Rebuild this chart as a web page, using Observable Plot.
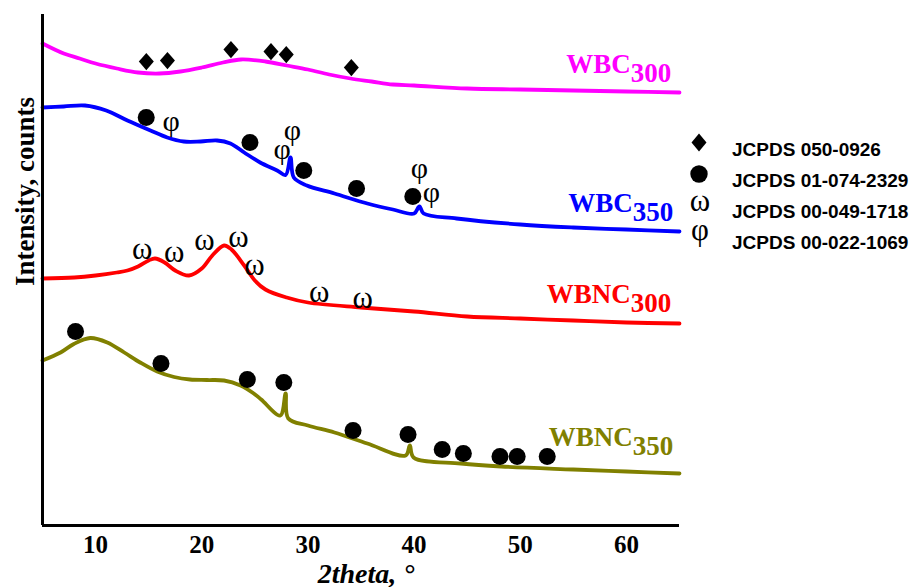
<!DOCTYPE html>
<html>
<head>
<meta charset="utf-8">
<script src="https://cdn.jsdelivr.net/npm/d3@7"></script>
<script src="https://cdn.jsdelivr.net/npm/@observablehq/plot@0.6"></script>
<style>
  body { margin: 0; background: #fff; }
  #chart { position: relative; width: 911px; height: 587px; }
  #chart svg.legend { position: absolute; left: 686px; top: 125px; }
</style>
</head>
<body>
<div id="chart"></div>
<script>
// XRD patterns, stacked with a vertical offset (arbitrary intensity units)
// Each pair is [2theta (deg), intensity]
const wbc300 = [[5,482],[7,472],[8.5,467],[10,462],[12,457],[14,453],[16,452],[18,454],[20,458],[22,463],[23.7,466],[26,464],[28,460],[30,456],[32,451],[34,447],[36,444],[38,441],[40,440],[45,437],[50,436],[55,435],[60,434],[65,433]];
const wbc350 = [[5,418],[7,419],[9,420],[11,415],[13,405],[15.17,395],[16.75,388],[18.3,384],[19.9,384],[21.45,385],[22.7,382],[24,373],[25.5,363],[27.1,355],[27.9,350.5],[28.36,368],[28.67,348],[29.9,340],[32.5,332],[35.6,322],[38,316],[40,312],[40.5,319],[40.9,312],[44,307],[50,301],[55,298],[60,296],[65,294]];
const wbnc300 = [[5,247],[8,248],[10,250],[12,253],[13,255],[14,259],[15,265],[15.6,267],[16.5,263],[17.5,255],[18.8,250],[20,257],[21,270],[22.1,280],[22.8,276],[24,260],[25,245],[26,236],[28,228],[30,223],[35,218],[40,214],[45,209],[50,207],[55,205],[60,203],[65,202]];
const wbnc350 = [[5,165],[6.7,173],[7.95,181.5],[9.5,187.5],[11.1,183],[12.7,173],[14.2,163],[15.8,154],[17.4,148.5],[18.9,146],[20.5,145.5],[22.1,145],[23.65,140],[24.9,132],[25.6,126],[27.4,110],[27.9,132],[28.15,107],[30,100],[32.5,93],[35.6,82],[39.2,70],[39.6,80],[39.95,68],[44.4,62],[48.2,59],[55,56],[60,54],[65,52]];

// Reference-pattern peak markers: [2theta, marker height]
const peaks050_0926 = [[14.78,464],[16.77,465],[22.75,476],[26.52,474],[27.96,471],[34.09,458]];
const peaks074_2329_wbc = [[14.77,408],[24.54,383],[29.61,355],[34.58,337],[39.88,329]];
const peaks074_2329_wbnc = [[8.11,194],[16.16,162],[24.29,146],[27.73,143],[34.25,95],[39.43,91],[42.65,76],[44.64,72],[48.09,69],[49.71,69],[52.54,69]];
const peaks049_1718 = [[14.39,273],[17.40,270],[20.26,282],[23.46,285],[24.97,257],[31.07,230],[35.16,224]];
const peaks022_1069 = [[17.12,401],[27.58,373],[28.55,392],[40.49,354],[41.64,330]];

// Series styling and labels
const seriesData = [wbc300, wbc350, wbnc300, wbnc350];
const seriesNames = ["WBC", "WBC", "WBNC", "WBNC"];
const seriesTemps = ["300", "350", "300", "350"];
const seriesColors = ["#ff00ff", "#0000ff", "#ff0000", "#808000"];
const labelX = [60.4, 60.6, 60.4, 60.6];
const labelY = [453, 314, 223, 80];

const xTicks = [10, 20, 30, 40, 50, 60];
const xLabel = "2theta, °";
const yLabel = "Intensity, counts";

const legendLabels = ["JCPDS 050-0926", "JCPDS 01-074-2329", "JCPDS 00-049-1718", "JCPDS 00-022-1069"];
const legendSymbols = ["diamond", "circle", "ω", "φ"];

const serif = "'Liberation Serif', 'Times New Roman', serif";

// slightly elongated rhombus marker
const rhombus = {
  draw(ctx, size) {
    const r = Math.sqrt(size / Math.PI);
    ctx.moveTo(0, -r * 1.15);
    ctx.lineTo(r, 0);
    ctx.lineTo(0, r * 1.15);
    ctx.lineTo(-r, 0);
    ctx.closePath();
  }
};

const labels = seriesNames.map((n, i) => ({name: n, sub: seriesTemps[i], x: labelX[i], y: labelY[i], color: seriesColors[i]}));
const X = d => d[0], Y = d => d[1];

const plot = Plot.plot({
  width: 911,
  height: 587,
  marginLeft: 42,
  marginRight: 232,
  marginTop: 14,
  marginBottom: 62,
  style: {fontFamily: serif, background: "white", color: "black", overflow: "visible"},
  x: {domain: [5, 65], axis: null},
  y: {domain: [0, 511], axis: null},
  marks: [
    ...seriesData.map((s, i) => Plot.line(s, {x: X, y: Y, stroke: seriesColors[i], strokeWidth: 3.8, curve: "catmull-rom"})),
    Plot.dot(peaks050_0926, {x: X, y: Y, symbol: rhombus, r: 7.5, fill: "black", stroke: null}),
    Plot.dot(peaks074_2329_wbc, {x: X, y: Y, r: 8.5, fill: "black", stroke: null}),
    Plot.dot(peaks074_2329_wbnc, {x: X, y: Y, r: 8.5, fill: "black", stroke: null}),
    Plot.text(peaks049_1718, {x: X, y: Y, text: () => "ω", fontSize: 31, fontFamily: serif, dy: -3, fill: "black"}),
    Plot.text(peaks022_1069, {x: X, y: Y, text: () => "φ", fontSize: 30, fontFamily: serif, dy: -3, fill: "black"}),
    Plot.text(labels, {x: "x", y: "y", text: "name", fill: "color", textAnchor: "end", lineAnchor: "bottom", fontSize: 27, fontWeight: "bold", fontFamily: serif}),
    Plot.text(labels, {x: "x", y: "y", text: "sub", fill: "color", textAnchor: "start", lineAnchor: "bottom", dy: 9, fontSize: 27, fontWeight: "bold", fontFamily: serif}),
    // x tick labels, placed by the x scale below the frame
    Plot.text(xTicks, {x: d => d, frameAnchor: "bottom", dy: 27, lineAnchor: "bottom", text: d => String(d), fontSize: 25, fontWeight: "bold", fontFamily: serif}),
    Plot.ruleX([5], {strokeWidth: 3}),
    Plot.ruleY([0], {strokeWidth: 3}),
    Plot.text([xLabel], {frameAnchor: "bottom", dy: 57, dx: 5, lineAnchor: "bottom", fontSize: 28, fontWeight: "bold", fontStyle: "italic", fontFamily: serif}),
    Plot.text([yLabel], {frameAnchor: "left", rotate: -90, dx: -9, dy: 16, lineAnchor: "bottom", fontSize: 27, fontWeight: "bold", fontFamily: serif})
  ]
});

const chart = document.getElementById("chart");
chart.append(plot);

// Legend of reference patterns
const legend = d3.select(chart).append("svg")
  .attr("class", "legend")
  .attr("width", 225)
  .attr("height", 140);
const rowH = 31;
legendLabels.forEach((lab, i) => {
  const g = legend.append("g").attr("transform", `translate(0,${i * rowH})`);
  const sym = legendSymbols[i];
  if (sym === "diamond") {
    g.append("path").attr("d", "M13,8.5L20.5,17.5L13,26.5L5.5,17.5Z").attr("fill", "black");
  } else if (sym === "circle") {
    g.append("circle").attr("cx", 13).attr("cy", 18).attr("r", 8.7).attr("fill", "black");
  } else {
    g.append("text").attr("x", 14).attr("y", sym === "ω" ? 24 : 22)
      .attr("text-anchor", "middle")
      .style("font-family", serif).style("font-size", "31px")
      .text(sym);
  }
  g.append("text").attr("x", 46).attr("y", 31)
    .style("font-family", "'Liberation Sans', Arial, sans-serif")
    .style("font-weight", "bold").style("font-size", "19px")
    .text(lab);
});
</script>
</body>
</html>
